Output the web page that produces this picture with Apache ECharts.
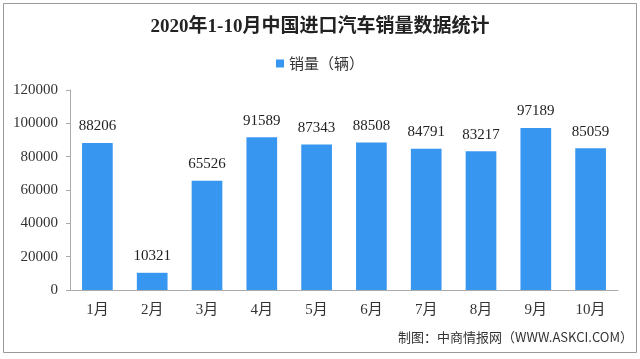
<!DOCTYPE html>
<html><head><meta charset="utf-8">
<script src="https://cdn.jsdelivr.net/npm/echarts@6/dist/echarts.min.js"></script>
<style>html,body{margin:0;padding:0;background:#fff}#c{width:640px;height:359px}</style>
</head><body><div id="c"></div>
<script>
const titleText = '2020年1-10月中国进口汽车销量数据统计';
const seriesName = '销量（辆）';
const categories = ['1月','2月','3月','4月','5月','6月','7月','8月','9月','10月'];
const sales = [88206,10321,65526,91589,87343,88508,84791,83217,97189,85059];
const yTicks = {min:0, max:120000, interval:20000};
const footer = '制图：中商情报网（WWW.ASKCI.COM）';

const serif = '"Liberation Serif","Noto Sans CJK SC",serif';
const chart = echarts.init(document.getElementById('c'));
chart.setOption({
  backgroundColor:'#fff',
  animation:false,
  title:{text:titleText,left:'center',top:13,textStyle:{fontFamily:serif,fontWeight:'bold',fontSize:19,color:'#222'}},
  legend:{data:[seriesName],top:51,left:'center',icon:'rect',itemWidth:8,itemHeight:8,itemGap:5,
    textStyle:{fontFamily:'"Noto Sans CJK SC",sans-serif',fontSize:15,color:'#333'}},
  grid:{left:70,right:22,top:90,bottom:69,containLabel:false},
  xAxis:{type:'category',data:categories,axisTick:{show:false},
    axisLine:{lineStyle:{color:'#aaa'}},
    axisLabel:{fontFamily:serif,fontSize:15,color:'#333',margin:13}},
  yAxis:{type:'value',min:yTicks.min,max:yTicks.max,interval:yTicks.interval,splitLine:{show:false},
    axisLine:{show:true,lineStyle:{color:'#aaa'}},axisTick:{show:true,length:4,lineStyle:{color:'#aaa'}},
    axisLabel:{fontFamily:serif,fontSize:15,color:'#333',margin:12,formatter:v=>String(v)}},
  series:[{name:seriesName,type:'bar',data:sales,barWidth:'56%',itemStyle:{color:'#3797f0'},
    label:{show:true,position:'top',distance:9,fontFamily:serif,fontSize:15,color:'#222'}}],
  graphic:[
    {type:'rect',shape:{x:3.5,y:3.5,width:633,height:349},style:{fill:null,stroke:'#999',lineWidth:1},silent:true},
    {type:'text',right:7,top:331,style:{text:footer,fontFamily:'"Noto Sans CJK SC",sans-serif',fontSize:13,fill:'#333'}}
  ]
});
</script></body></html>
